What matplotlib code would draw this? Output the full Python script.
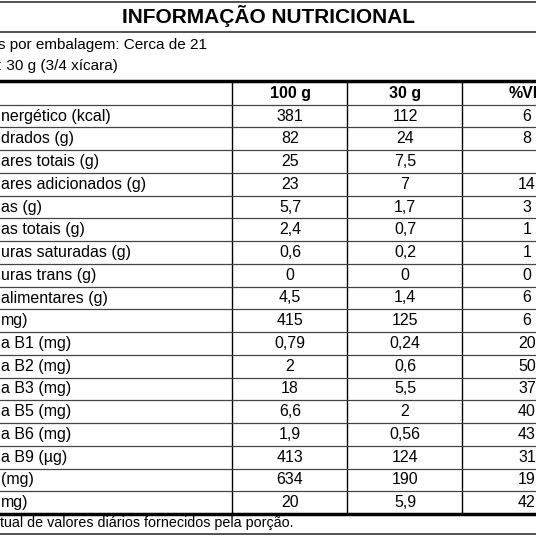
import matplotlib.pyplot as plt

plt.rcParams['font.family'] = ['Liberation Sans', 'DejaVu Sans']

title = "INFORMAÇÃO NUTRICIONAL"
portions = "s por embalagem: Cerca de 21"
portion_size = ": 30 g (3/4 xícara)"
footnote = "tual de valores diários fornecidos pela porção."

col_headers = ["100 g", "30 g", "%VD"]
labels = [
    "nergético (kcal)", "drados (g)", "ares totais (g)", "ares adicionados (g)",
    "as (g)", "as totais (g)", "uras saturadas (g)", "uras trans (g)",
    "alimentares (g)", "mg)", "a B1 (mg)", "a B2 (mg)", "a B3 (mg)",
    "a B5 (mg)", "a B6 (mg)", "a B9 (µg)", "(mg)", "mg)",
]
per_100g = ["381", "82", "25", "23", "5,7", "2,4", "0,6", "0", "4,5", "415",
            "0,79", "2", "18", "6,6", "1,9", "413", "634", "20"]
per_30g = ["112", "24", "7,5", "7", "1,7", "0,7", "0,2", "0", "1,4", "125",
           "0,24", "0,6", "5,5", "2", "0,56", "124", "190", "5,9"]
vd = ["6", "8", "", "14", "3", "1", "1", "0", "6", "6",
      "20", "50", "37", "40", "43", "31", "19", "42"]

fig = plt.figure(figsize=(5.36, 5.36), dpi=100)
ax = fig.add_axes([0, 0, 1, 1])
ax.set_xlim(0, 536)
ax.set_ylim(536, 0)
ax.set_axis_off()

fs = 11.5
ax.text(268, 16, title, ha='center', va='center', fontsize=15, fontweight='bold')
ax.text(-2, 45, portions, ha='left', va='center', fontsize=11)
ax.text(-2, 66, portion_size, ha='left', va='center', fontsize=11)

# frame lines
ax.axhline(1.5, color='#333', lw=1.2)
ax.axhline(32, color='#333', lw=1.2)
ax.axhline(81, color='black', lw=2.5)
ax.axhline(514, color='black', lw=2.5)
ax.axhline(534, color='#333', lw=1.2)

top, bottom = 82, 514
n = len(labels) + 1
h = (bottom - top) / n
for x in [232, 347, 462]:
    ax.plot([x, x], [top, bottom], color='black', lw=1)
for i in range(1, n):
    ax.axhline(top + i * h, color='#444', lw=0.9)

centers = [290, 405, 527]
for c, t in zip(centers, col_headers):
    ax.text(c, top + h / 2, t, ha='center', va='center', fontsize=fs, fontweight='bold')
for i, (lab, a, b, v) in enumerate(zip(labels, per_100g, per_30g, vd)):
    y = top + (i + 1.5) * h
    ax.text(1, y, lab, ha='left', va='center', fontsize=fs)
    ax.text(centers[0], y, a, ha='center', va='center', fontsize=fs)
    ax.text(centers[1], y, b, ha='center', va='center', fontsize=fs)
    ax.text(centers[2], y, v, ha='center', va='center', fontsize=fs)

ax.text(0, 523, footnote, ha='left', va='center', fontsize=10.3)

fig.savefig("out.png", dpi=100)
